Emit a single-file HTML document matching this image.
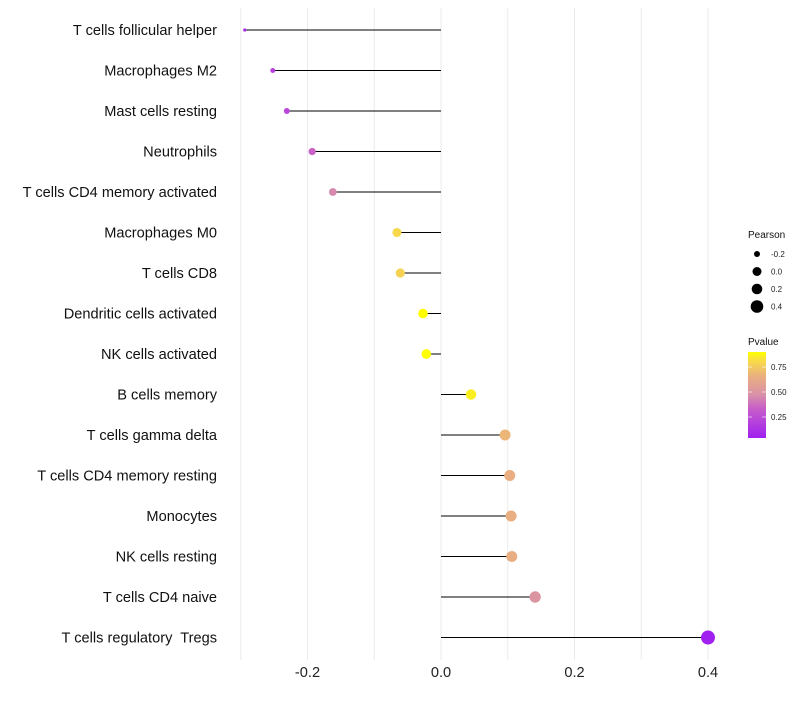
<!DOCTYPE html>
<html><head><meta charset="utf-8"><style>
body{margin:0;background:#fff;width:800px;height:700px;overflow:hidden;font-family:"Liberation Sans",sans-serif}
text{white-space:pre}
</style></head><body>
<svg id="chart" width="800" height="700" xmlns="http://www.w3.org/2000/svg"></svg>
<script>
const categories=["T cells follicular helper","Macrophages M2","Mast cells resting","Neutrophils","T cells CD4 memory activated","Macrophages M0","T cells CD8","Dendritic cells activated","NK cells activated","B cells memory","T cells gamma delta","T cells CD4 memory resting","Monocytes","NK cells resting","T cells CD4 naive","T cells regulatory  Tregs"];
const pearson=[-0.294,-0.252,-0.231,-0.193,-0.162,-0.066,-0.061,-0.027,-0.022,0.045,0.096,0.103,0.105,0.106,0.141,0.40];
const pvalue=[0.10,0.20,0.22,0.35,0.45,0.80,0.78,0.92,0.92,0.86,0.68,0.65,0.65,0.65,0.50,0.04];
const xTicks=[-0.2,0.0,0.2,0.4];
const xGrid=[-0.3,-0.1,0.1,0.3];
const sizeLegend=[-0.2,0.0,0.2,0.4];
const colorTicks=[0.25,0.50,0.75];
const NS="http://www.w3.org/2000/svg";
const svg=document.getElementById('chart');
const X=v=>441+v*667.5;
const Y=i=>30+i*40.5;
function R(v){const k=[[-0.294,1.6],[-0.2,3.6],[0,5],[0.4,7]];
 for(let j=1;j<k.length;j++){if(v<=k[j][0]){const t=(v-k[j-1][0])/(k[j][0]-k[j-1][0]);return Math.max(1.5,k[j-1][1]+t*(k[j][1]-k[j-1][1]));}}return 7;}
const stops=[[0,[160,32,240]],[0.35,[200,96,200]],[0.5,[216,144,168]],[0.72,[234,176,128]],[0.9,[248,220,70]],[1,[255,255,0]]];
function col(p){let t=(p-0.04)/0.86;t=Math.max(0,Math.min(1,t));
 for(let j=1;j<stops.length;j++){if(t<=stops[j][0]){const u=(t-stops[j-1][0])/(stops[j][0]-stops[j-1][0]);
 const c=stops[j-1][1].map((x,i)=>Math.round(x+(stops[j][1][i]-x)*u));return `rgb(${c.join(',')})`;}}return 'rgb(255,255,0)';}
function el(tag,a,txt){const e=document.createElementNS(NS,tag);for(const k in a)e.setAttribute(k,a[k]);if(txt!=null)e.textContent=txt;svg.appendChild(e);return e;}
[...xGrid,...xTicks].forEach(v=>{const g=el('line',{x1:X(v),x2:X(v),y1:8,y2:660,stroke:'#ebebeb','stroke-width':1});

});
xTicks.forEach(v=>{const t=el('text',{x:X(v),y:677,'text-anchor':'middle','font-size':14.6,fill:'#222'},v.toFixed(1));

});
categories.forEach((c,i)=>{
 const t=el('text',{x:217,y:Y(i)+5,'text-anchor':'end','font-size':14.6,fill:'#111'},c);
 
 
 const l=el('line',{x1:X(0),x2:X(pearson[i]),y1:Y(i),y2:Y(i),stroke:'#000','stroke-width':1});
 
 
 const d=el('circle',{cx:X(pearson[i]),cy:Y(i),r:R(pearson[i]),fill:col(pvalue[i])});
 
 
});
const lt=el('text',{x:748,y:238,'font-size':10,fill:'#111'},'Pearson');


sizeLegend.forEach((v,i)=>{const yy=254+i*17.5;
 const c=el('circle',{cx:757,cy:yy,r:[3,4.5,5.3,6.3][i],fill:'#000'});
 
 
 const t=el('text',{x:771,y:yy+3,'font-size':8,fill:'#222'},v.toFixed(1));
 
 });
const ct=el('text',{x:748,y:345,'font-size':10,fill:'#111'},'Pvalue');


const defs=el('defs',{});const lg=document.createElementNS(NS,'linearGradient');
lg.setAttribute('id','pg');lg.setAttribute('x1','0');lg.setAttribute('y1','1');lg.setAttribute('x2','0');lg.setAttribute('y2','0');
stops.forEach(s=>{const st=document.createElementNS(NS,'stop');st.setAttribute('offset',s[0]);st.setAttribute('stop-color',`rgb(${s[1].join(',')})`);lg.appendChild(st);});
defs.appendChild(lg);
const bar=el('rect',{x:748,y:352,width:18,height:86,fill:'url(#pg)'});


colorTicks.forEach(v=>{const yy=438-(v-0.04)/0.86*86;
 el('line',{x1:748,x2:752,y1:yy,y2:yy,stroke:'#fff','stroke-width':0.6});
 el('line',{x1:762,x2:766,y1:yy,y2:yy,stroke:'#fff','stroke-width':0.6});
 const t=el('text',{x:771,y:yy+3,'font-size':8,fill:'#222'},v.toFixed(2));
 
 });
</script>
</body></html>
